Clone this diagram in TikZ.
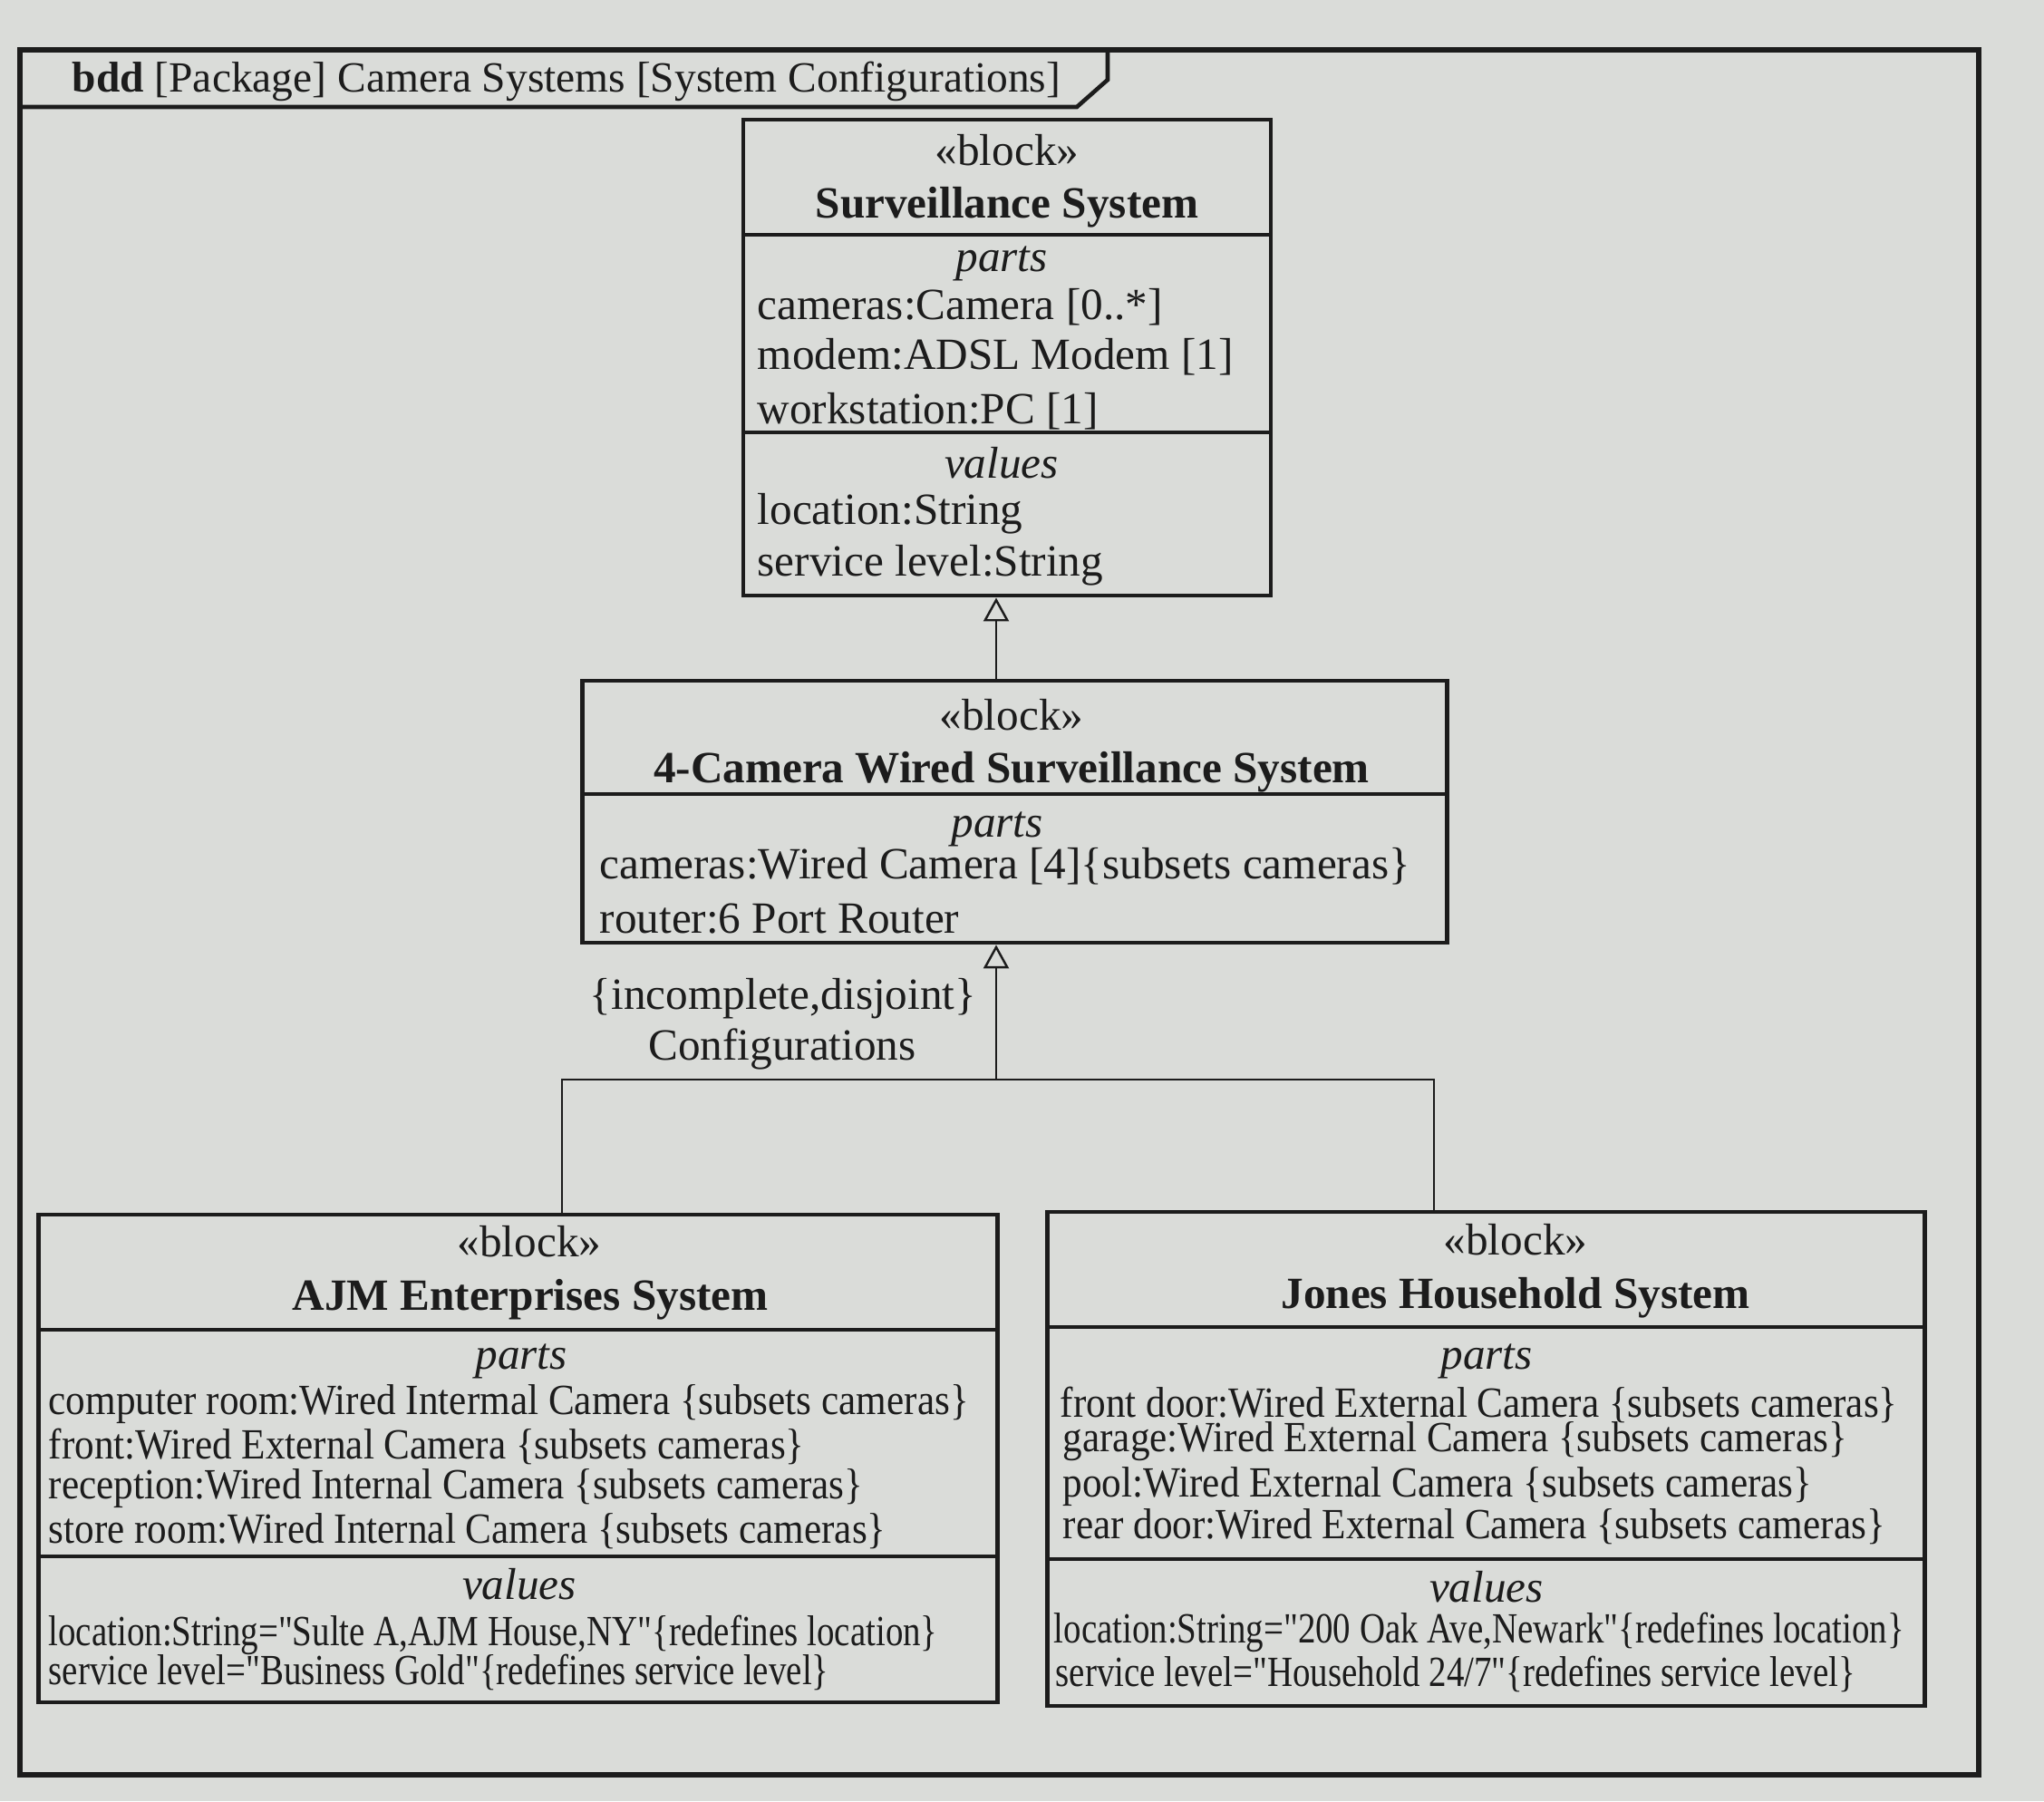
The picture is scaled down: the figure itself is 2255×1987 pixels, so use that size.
\documentclass[tikz,border=0pt]{standalone}
\usepackage{fontspec}
\setmainfont{Liberation Serif}
\newfontfamily\condfont[FakeStretch=0.91]{Liberation Serif}
\newfontfamily\condvfont[FakeStretch=0.82]{Liberation Serif}
\usetikzlibrary{arrows.meta}
\definecolor{paper}{RGB}{218,220,217}
\definecolor{ink}{RGB}{28,28,28}
\begin{document}
\begin{tikzpicture}[x=0.01cm,y=-0.01cm,
  txt/.style={inner sep=0pt, yshift=-0.09cm, font=\fontsize{14}{16}\selectfont, text=ink},
  stereo/.style={txt, anchor=mid},
  bname/.style={txt, anchor=mid, font=\fontsize{14}{16}\selectfont\bfseries},
  comp/.style={txt, anchor=mid, font=\fontsize{14}{16}\selectfont\itshape},
  item/.style={txt, anchor=mid west},
  citem/.style={txt, anchor=mid west, font=\fontsize{13.5}{15}\condfont},
  vitem/.style={txt, anchor=mid west, font=\fontsize{13.5}{15}\condvfont},
  blockbox/.style={draw=ink, line width=1.3pt, rectangle, inner sep=0pt},
  sepline/.style={draw=ink, line width=1.3pt},
  frameline/.style={draw=ink, line width=1.6pt},
  conn/.style={draw=ink, line width=0.7pt},
  gen/.style={conn, -{Triangle[open, length=0.26cm, width=0.28cm, line width=0.7pt]}},
]
% paper
\fill[paper] (0,0) rectangle (2255,1987);
\useasboundingbox (0,0) rectangle (2255,1987);

% frame and tab
\draw[frameline] (22,55) rectangle (2183,1958);
\draw[sepline] (22,118) -- (1188,118) -- (1222,88) -- (1222,55);
\node[txt, anchor=mid west, font=\fontsize{13.5}{15}\selectfont] (title) at (79,84)
  {\textbf{bdd} [Package] Camera Systems [System Configurations]};

% ---- Surveillance System
\node[blockbox, minimum width=5.82cm, minimum height=5.25cm] (ss) at (1111,394.5) {};
\draw[sepline] (820,259) -- (1402,259);
\draw[sepline] (820,477) -- (1402,477);
\node[stereo] (ss-st) at (1111,165) {«block»};
\node[bname] (ss-nm) at (1111,223) {Surveillance System};
\node[comp] (ss-pt) at (1105,282) {parts};
\node[item] (ss-p1) at (835,335) {cameras:Camera [0..*]};
\node[item] (ss-p2) at (835,390) {modem:ADSL Modem [1]};
\node[item] (ss-p3) at (835,450) {workstation:PC [1]};
\node[comp] (ss-vl) at (1105,510) {values};
\node[item] (ss-v1) at (835,561) {location:String};
\node[item] (ss-v2) at (835,618) {service level:String};

% ---- 4-Camera Wired Surveillance System
\node[blockbox, minimum width=9.53cm, minimum height=2.89cm] (fc) at (1119.5,895.5) {};
\draw[sepline] (643,876) -- (1596,876);
\node[stereo] (fc-st) at (1116,788) {«block»};
\node[bname] (fc-nm) at (1116,846) {4-Camera Wired Surveillance System};
\node[comp] (fc-pt) at (1100,906) {parts};
\node[item] (fc-p1) at (661,952) {cameras:Wired Camera [4]\{subsets cameras\}};
\node[item] (fc-p2) at (661,1012) {router:6 Port Router};

% ---- AJM Enterprises System
\node[blockbox, minimum width=10.57cm, minimum height=5.38cm] (ajm) at (571.5,1609) {};
\draw[sepline] (43,1467) -- (1100,1467);
\draw[sepline] (43,1717) -- (1100,1717);
\node[stereo] (ajm-st) at (584,1369) {«block»};
\node[bname] (ajm-nm) at (585,1428) {AJM Enterprises System};
\node[comp] (ajm-pt) at (575,1493) {parts};
\node[citem] (ajm-p1) at (53,1543) {computer room:Wired Intermal Camera \{subsets cameras\}};
\node[citem] (ajm-p2) at (53,1592) {front:Wired External Camera \{subsets cameras\}};
\node[citem] (ajm-p3) at (53,1636) {reception:Wired Internal Camera \{subsets cameras\}};
\node[citem] (ajm-p4) at (53,1685) {store room:Wired Internal Camera \{subsets cameras\}};
\node[comp] (ajm-vl) at (573,1747) {values};
\node[vitem] (ajm-v1) at (53,1798) {location:String="Sulte A,AJM House,NY"\{redefines location\}};
\node[vitem] (ajm-v2) at (53,1841) {service level="Business Gold"\{redefines service level\}};

% ---- Jones Household System
\node[blockbox, minimum width=9.67cm, minimum height=5.45cm] (jones) at (1639.5,1609.5) {};
\draw[sepline] (1156,1464) -- (2123,1464);
\draw[sepline] (1156,1720) -- (2123,1720);
\node[stereo] (jn-st) at (1672,1367) {«block»};
\node[bname] (jn-nm) at (1672,1426) {Jones Household System};
\node[comp] (jn-pt) at (1640,1493) {parts};
\node[citem] (jn-p1) at (1169,1546) {front door:Wired External Camera \{subsets cameras\}};
\node[citem] (jn-p2) at (1172,1584) {garage:Wired External Camera \{subsets cameras\}};
\node[citem] (jn-p3) at (1172,1634) {pool:Wired External Camera \{subsets cameras\}};
\node[citem] (jn-p4) at (1172,1680) {rear door:Wired External Camera \{subsets cameras\}};
\node[comp] (jn-vl) at (1640,1750) {values};
\node[vitem] (jn-v1) at (1162,1795) {location:String="200 Oak Ave,Newark"\{redefines location\}};
\node[vitem] (jn-v2) at (1164,1843) {service level="Household 24/7"\{redefines service level\}};

% ---- generalizations
\coordinate (gx) at (1099,0);
\coordinate (ax) at (620,0);
\coordinate (jx) at (1582,0);
\coordinate (jn) at (1099,1191);
\draw[gen] (fc.north -| gx) -- (ss.south -| gx);
\draw[gen] (jn) -- (fc.south -| gx);
\draw[conn] (ajm.north -| ax) |- (jn) -| (jones.north -| jx);

\node[txt, anchor=mid] (gs1) at (864,1096) {\{incomplete,disjoint\}};
\node[txt, anchor=mid] (gs2) at (863,1152) {Configurations};
\end{tikzpicture}
\end{document}
